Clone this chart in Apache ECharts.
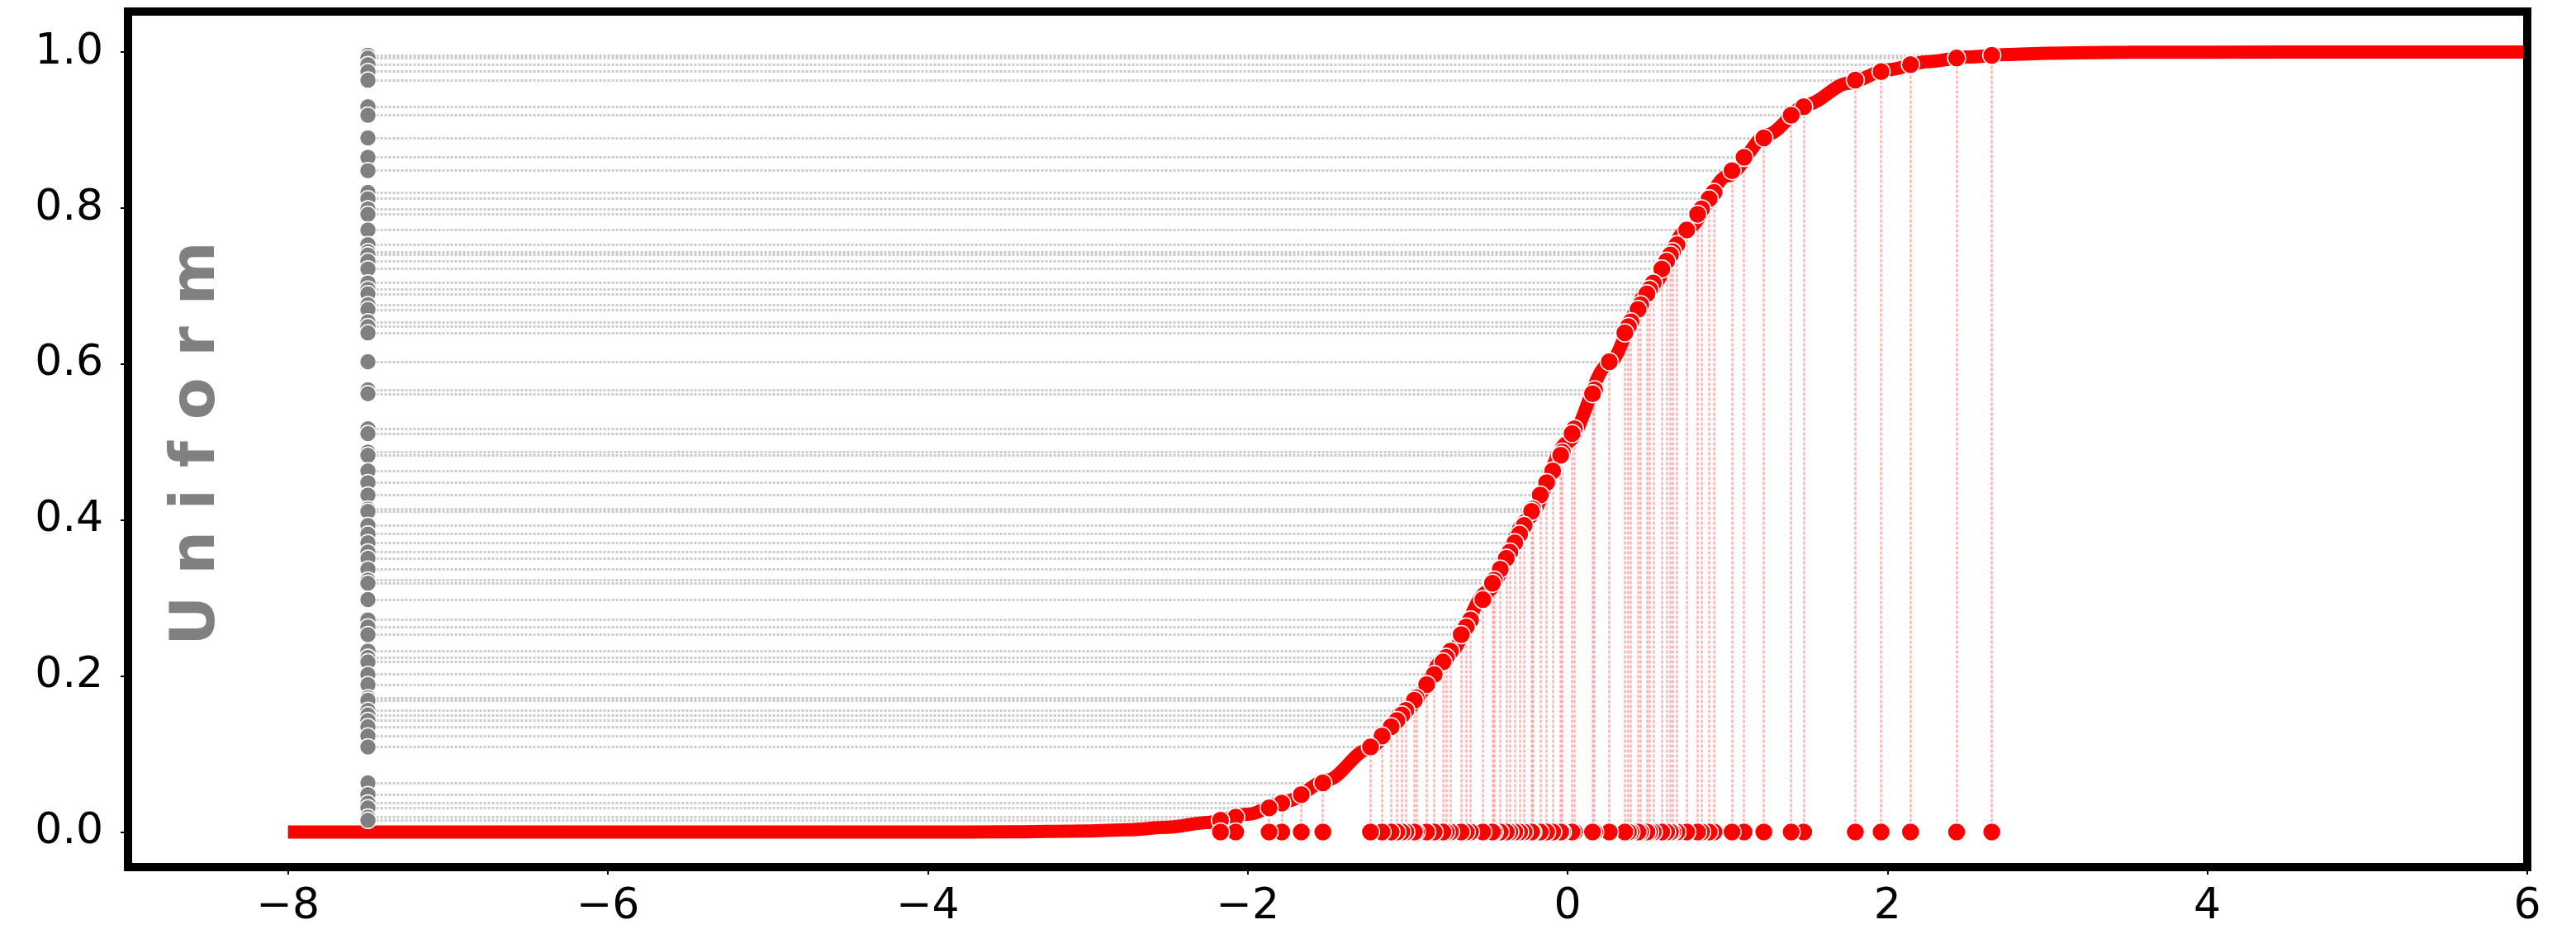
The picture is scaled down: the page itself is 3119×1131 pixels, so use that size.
<!DOCTYPE html>
<html>
<head>
<meta charset="utf-8">
<script src="https://cdn.jsdelivr.net/npm/echarts@6/dist/echarts.min.js"></script>
<style>
  html, body { margin: 0; padding: 0; background: #ffffff; }
  #chart { width: 3119px; height: 1131px; }
</style>
</head>
<body>
<div id="chart"></div>
<script>
// ---- data ----
const sourceX = -7.5;   // x where the uniform samples are drawn
const uniformValues = [0.996, 0.9925, 0.984, 0.975, 0.964, 0.930, 0.919, 0.890, 0.865, 0.848,
  0.820, 0.812, 0.799, 0.792, 0.772, 0.753, 0.744, 0.740, 0.732, 0.722,
  0.704, 0.696, 0.690, 0.676, 0.670, 0.654, 0.648, 0.640, 0.603, 0.567,
  0.562, 0.517, 0.511, 0.487, 0.483, 0.463, 0.448, 0.432, 0.414, 0.411,
  0.393, 0.382, 0.371, 0.359, 0.351, 0.337, 0.323, 0.319, 0.298, 0.272,
  0.263, 0.253, 0.232, 0.224, 0.218, 0.202, 0.189, 0.172, 0.169, 0.156,
  0.150, 0.143, 0.135, 0.123, 0.109, 0.063, 0.048, 0.037, 0.031, 0.019, 0.015];
const sampleX = [2.652, 2.432, 2.144, 1.960, 1.799, 1.476, 1.398, 1.227, 1.103, 1.028,
  0.915, 0.885, 0.838, 0.813, 0.745, 0.684, 0.656, 0.643, 0.619, 0.589,
  0.536, 0.513, 0.496, 0.457, 0.440, 0.396, 0.380, 0.358, 0.261, 0.169,
  0.156, 0.043, 0.028, -0.033, -0.043, -0.093, -0.131, -0.171, -0.217, -0.225,
  -0.272, -0.300, -0.330, -0.361, -0.383, -0.421, -0.459, -0.470, -0.530, -0.607,
  -0.634, -0.665, -0.732, -0.759, -0.779, -0.834, -0.881, -0.946, -0.958, -1.011,
  -1.036, -1.067, -1.103, -1.160, -1.232, -1.530, -1.665, -1.787, -1.866, -2.075, -2.170];
const curveX = [-8, -7, -6, -5, -4, -3.5, -3, -2.75, -2.5, -2.25, -2, -1.75, -1.5, -1.25, -1,
  -0.75, -0.5, -0.25, 0, 0.25, 0.5, 0.75, 1, 1.25, 1.5, 1.75, 2, 2.25, 2.5, 2.75, 3, 3.5, 4, 5, 6];
const curveY = [0, 0, 0, 0.0000003, 0.00003, 0.00023, 0.00135, 0.00298, 0.00621, 0.01222, 0.02275,
  0.04006, 0.06681, 0.10565, 0.15866, 0.22663, 0.30854, 0.40129, 0.5, 0.59871, 0.69146,
  0.77337, 0.84134, 0.89435, 0.93319, 0.95994, 0.97725, 0.98778, 0.99379, 0.99702, 0.99865,
  0.99977, 0.99997, 0.9999997, 1];
const xTickValues = [-8, -6, -4, -2, 0, 2, 4, 6];
const yTickValues = [0, 0.2, 0.4, 0.6, 0.8, 1.0];
const sideLabel = 'U n i f o r m';

// ---- chart ----
const chart = echarts.init(document.getElementById('chart'), null, { renderer: 'canvas' });
const frameLine = { show: true, onZero: false, lineStyle: { color: '#000', width: 10, cap: 'square' } };
const FONT = 'DejaVu Sans';

const hLines = uniformValues.map((u, i) => ({ coords: [[sourceX, u], [sampleX[i], u]] }));
const vLines = uniformValues.map((u, i) => ({ coords: [[sampleX[i], 0], [sampleX[i], u]] }));

chart.setOption({
  animation: false,
  backgroundColor: '#ffffff',
  grid: { left: 155, right: 59, top: 14, bottom: 81 },
  xAxis: [
    { type: 'value', min: -9, max: 6, position: 'bottom', z: 10,
      axisLine: frameLine,
      axisTick: { show: true, inside: false, length: 9, lineStyle: { color: '#000', width: 2 }, customValues: xTickValues },
      axisLabel: { customValues: xTickValues, color: '#000', fontSize: 52, fontFamily: FONT, margin: 22,
        formatter: v => (v < 0 ? '\u2212' + Math.abs(v) : String(v)) },
      splitLine: { show: false } },
    { type: 'value', min: -9, max: 6, position: 'top', z: 10,
      axisLine: frameLine, axisTick: { show: false }, axisLabel: { show: false }, splitLine: { show: false } }
  ],
  yAxis: [
    { type: 'value', min: -0.045, max: 1.052, position: 'left', z: 10,
      axisLine: frameLine,
      axisTick: { show: true, inside: false, length: 9, lineStyle: { color: '#000', width: 2 }, customValues: yTickValues },
      axisLabel: { customValues: yTickValues, color: '#000', fontSize: 52, fontFamily: FONT, margin: 30,
        formatter: v => Number(v).toFixed(1) },
      splitLine: { show: false } },
    { type: 'value', min: -0.045, max: 1.052, position: 'right', z: 10,
      axisLine: frameLine, axisTick: { show: false }, axisLabel: { show: false }, splitLine: { show: false } }
  ],
  graphic: [{
    type: 'text', x: 240, y: 537, rotation: Math.PI / 2, z: 20,
    style: { text: sideLabel, fill: '#808080', font: 'bold 74px "DejaVu Sans"', align: 'center', verticalAlign: 'middle' }
  }],
  series: [
    { type: 'lines', coordinateSystem: 'cartesian2d', z: 1, silent: true,
      lineStyle: { color: '#a0a0a0', width: 3, opacity: 0.55, type: [3, 2] },
      data: hLines },
    { type: 'lines', coordinateSystem: 'cartesian2d', z: 1, silent: true,
      lineStyle: { color: '#ff0000', width: 2.5, opacity: 0.3, type: [4, 2] },
      data: vLines },
    { type: 'line', z: 2, showSymbol: false, smooth: 0.3, smoothMonotone: 'x',
      lineStyle: { color: '#ff0000', width: 16 },
      data: curveX.map((x, i) => [x, curveY[i]]) },
    { type: 'scatter', z: 3, symbol: 'circle', symbolSize: 20,
      itemStyle: { color: '#808080', borderColor: '#ffffff', borderWidth: 1.5, opacity: 1 },
      data: uniformValues.map(u => [sourceX, u]) },
    { type: 'scatter', z: 3, symbol: 'circle', symbolSize: 22,
      itemStyle: { color: '#ff0000', borderColor: '#ffffff', borderWidth: 1.5, opacity: 1 },
      data: uniformValues.map((u, i) => [sampleX[i], u]) },
    { type: 'scatter', z: 3, symbol: 'circle', symbolSize: 22,
      itemStyle: { color: '#ff0000', borderColor: '#ffffff', borderWidth: 1.5, opacity: 1 },
      data: sampleX.map(x => [x, 0]) }
  ]
});
</script>
</body>
</html>
